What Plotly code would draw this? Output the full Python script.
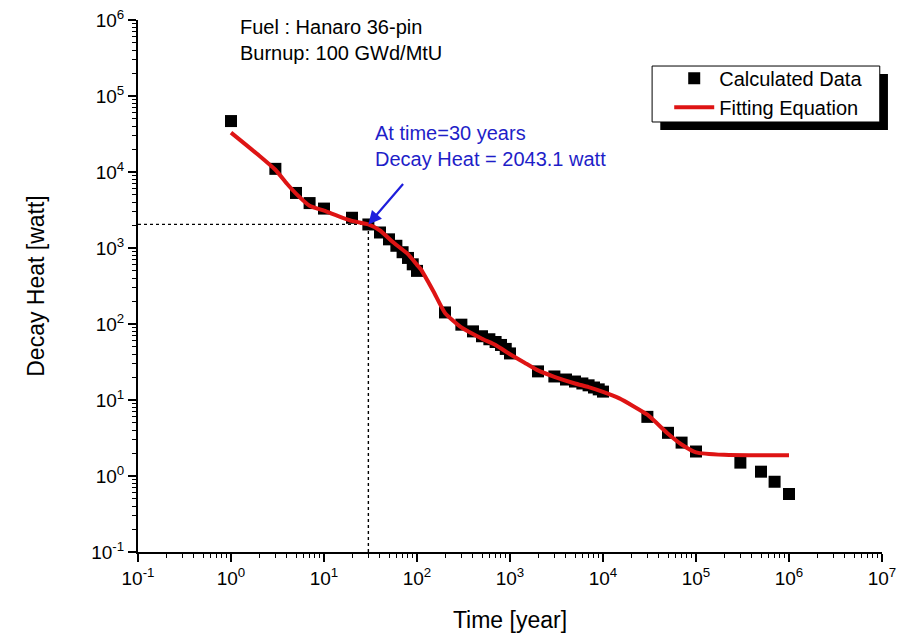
import plotly.graph_objects as go

# ---- data ----
calc_time = [1, 3, 5, 7, 10, 20, 30, 40, 50, 60, 70, 80, 90, 100,
             200, 300, 400, 500, 600, 700, 800, 900, 1000,
             2000, 3000, 4000, 5000, 6000, 7000, 8000, 9000, 10000,
             30000, 50000, 70000, 100000, 300000, 500000, 700000, 1000000]
calc_heat = [46800, 11000, 5300, 3900, 3300, 2500, 2040, 1600, 1300, 1070, 880, 740, 610, 500,
             142, 98, 80, 69, 63, 58, 53, 47, 41,
             23.8, 20.4, 18.6, 17.5, 16.5, 15.6, 14.6, 13.8, 12.9,
             6.0, 3.7, 2.75, 2.1, 1.5, 1.14, 0.84, 0.58]

fit_time = [1, 2, 3, 4, 5, 7, 10, 20, 30, 40, 55, 80, 100, 110, 150, 200, 300, 500, 700,
            1000, 1500, 2000, 3000, 5000, 7000, 10000, 15000, 30000, 50000, 70000,
            100000, 200000, 1000000]
fit_heat = [33000, 16500, 10700, 7000, 5200, 3600, 3100, 2270, 2043, 1700, 1200, 830, 600, 525,
            270, 140, 90, 64, 53, 40, 30, 24.5, 20.2, 16.5, 14.8, 12.8, 10.5, 6.4, 3.6, 2.6,
            2.05, 1.9, 1.87]

mark_time = 30
mark_heat = 2043.1
axis_min_x = 0.1
axis_min_y = 0.1

decades = [-1, 0, 1, 2, 3, 4, 5, 6, 7]
x_tick_vals = [10 ** d for d in decades]
x_tick_text = ["10<sup>%d</sup>" % d for d in decades]
y_decades = [-1, 0, 1, 2, 3, 4, 5, 6]
y_tick_vals = [10 ** d for d in y_decades]
y_tick_text = ["10<sup>%d</sup>" % d for d in y_decades]
x_minor = [m * 10 ** d for d in decades[:-1] for m in range(2, 10)]
y_minor = [m * 10 ** d for d in y_decades[:-1] for m in range(2, 10)]

FONT = "Arial, 'Liberation Sans', sans-serif"

fig = go.Figure()

# dotted guide lines
fig.add_trace(go.Scatter(x=[axis_min_x, mark_time], y=[mark_heat, mark_heat], mode="lines",
                         line=dict(color="black", width=1.4, dash="dot"),
                         showlegend=False, hoverinfo="skip"))
fig.add_trace(go.Scatter(x=[mark_time, mark_time], y=[axis_min_y, mark_heat], mode="lines",
                         line=dict(color="black", width=1.4, dash="dot"),
                         showlegend=False, hoverinfo="skip"))

fig.add_trace(go.Scatter(x=calc_time, y=calc_heat, mode="markers", name="Calculated Data",
                         marker=dict(symbol="square", size=12, color="black")))
fig.add_trace(go.Scatter(x=fit_time, y=fit_heat, mode="lines", name="Fitting Equation",
                         line=dict(color="rgb(222,20,20)", width=4, shape="spline", smoothing=0.5)))

axis_common = dict(type="log", showline=True, linecolor="black", linewidth=2,
                   ticks="outside", ticklen=8, tickwidth=1.5, tickcolor="black",
                   showgrid=False, zeroline=False, mirror=False, automargin=False,
                   ticklabeloverflow="allow",
                   tickfont=dict(family=FONT, size=19, color="black"))

fig.update_layout(
    width=902, height=636, autosize=False,
    margin=dict(l=138, r=20, t=20, b=84),
    paper_bgcolor="white", plot_bgcolor="white",
    font=dict(family=FONT, color="black"),
    xaxis=dict(**axis_common, range=[-1, 7], tickmode="array",
               tickvals=x_tick_vals, ticktext=x_tick_text,
               minor=dict(tickmode="array", tickvals=x_minor, ticks="outside",
                          ticklen=4, tickwidth=1.2, tickcolor="black", showgrid=False),
               title=dict(text="Time [year]", font=dict(family=FONT, size=23), standoff=24)),
    yaxis=dict(**axis_common, range=[-1, 6], tickmode="array",
               tickvals=y_tick_vals, ticktext=y_tick_text,
               minor=dict(tickmode="array", tickvals=y_minor, ticks="outside",
                          ticklen=4, tickwidth=1.2, tickcolor="black", showgrid=False),
               title=dict(text="Decay Heat [watt]", font=dict(family=FONT, size=23), standoff=40)),
    showlegend=True,
    legend=dict(x=0.714, y=0.927, xanchor="left", yanchor="top",
                bgcolor="rgba(0,0,0,0)", borderwidth=0,
                font=dict(family=FONT, size=20, color="black"),
                tracegroupgap=0, itemwidth=40),
)

# legend box with shadow
fig.add_shape(type="rect", xref="paper", yref="paper", x0=0.702, x1=1.008, y0=0.7932, y1=0.8985,
              fillcolor="black", line=dict(width=0), layer="above")
fig.add_shape(type="rect", xref="paper", yref="paper", x0=0.691, x1=0.997, y0=0.8083, y1=0.9135,
              fillcolor="white", line=dict(color="black", width=1), layer="above")

# text annotations
fig.add_annotation(xref="paper", yref="paper", x=(238 - 138) / 744, y=(552 - 14) / 532,
                   xanchor="left", yanchor="top", align="left", showarrow=False,
                   text="Fuel : Hanaro 36-pin<br>Burnup: 100 GWd/MtU",
                   font=dict(family=FONT, size=20, color="black"))
fig.add_annotation(xref="paper", yref="paper", x=(373 - 138) / 744, y=(552 - 120) / 532,
                   xanchor="left", yanchor="top", align="left", showarrow=False,
                   text="At time=30 years<br>Decay Heat = 2043.1 watt",
                   font=dict(family=FONT, size=20, color="rgb(30,30,200)"))
fig.add_annotation(x=1.477, y=3.3103, xref="x", yref="y", text="", showarrow=True,
                   ax=36, ay=-42, arrowcolor="rgb(30,30,220)", arrowwidth=2.2,
                   arrowhead=2, arrowsize=1.2)

# remove the browser's default 8px body margin so the figure sits at the page origin
fig.write_html("out.html", config={"displayModeBar": False},
               post_script="document.body.style.margin='0';")
